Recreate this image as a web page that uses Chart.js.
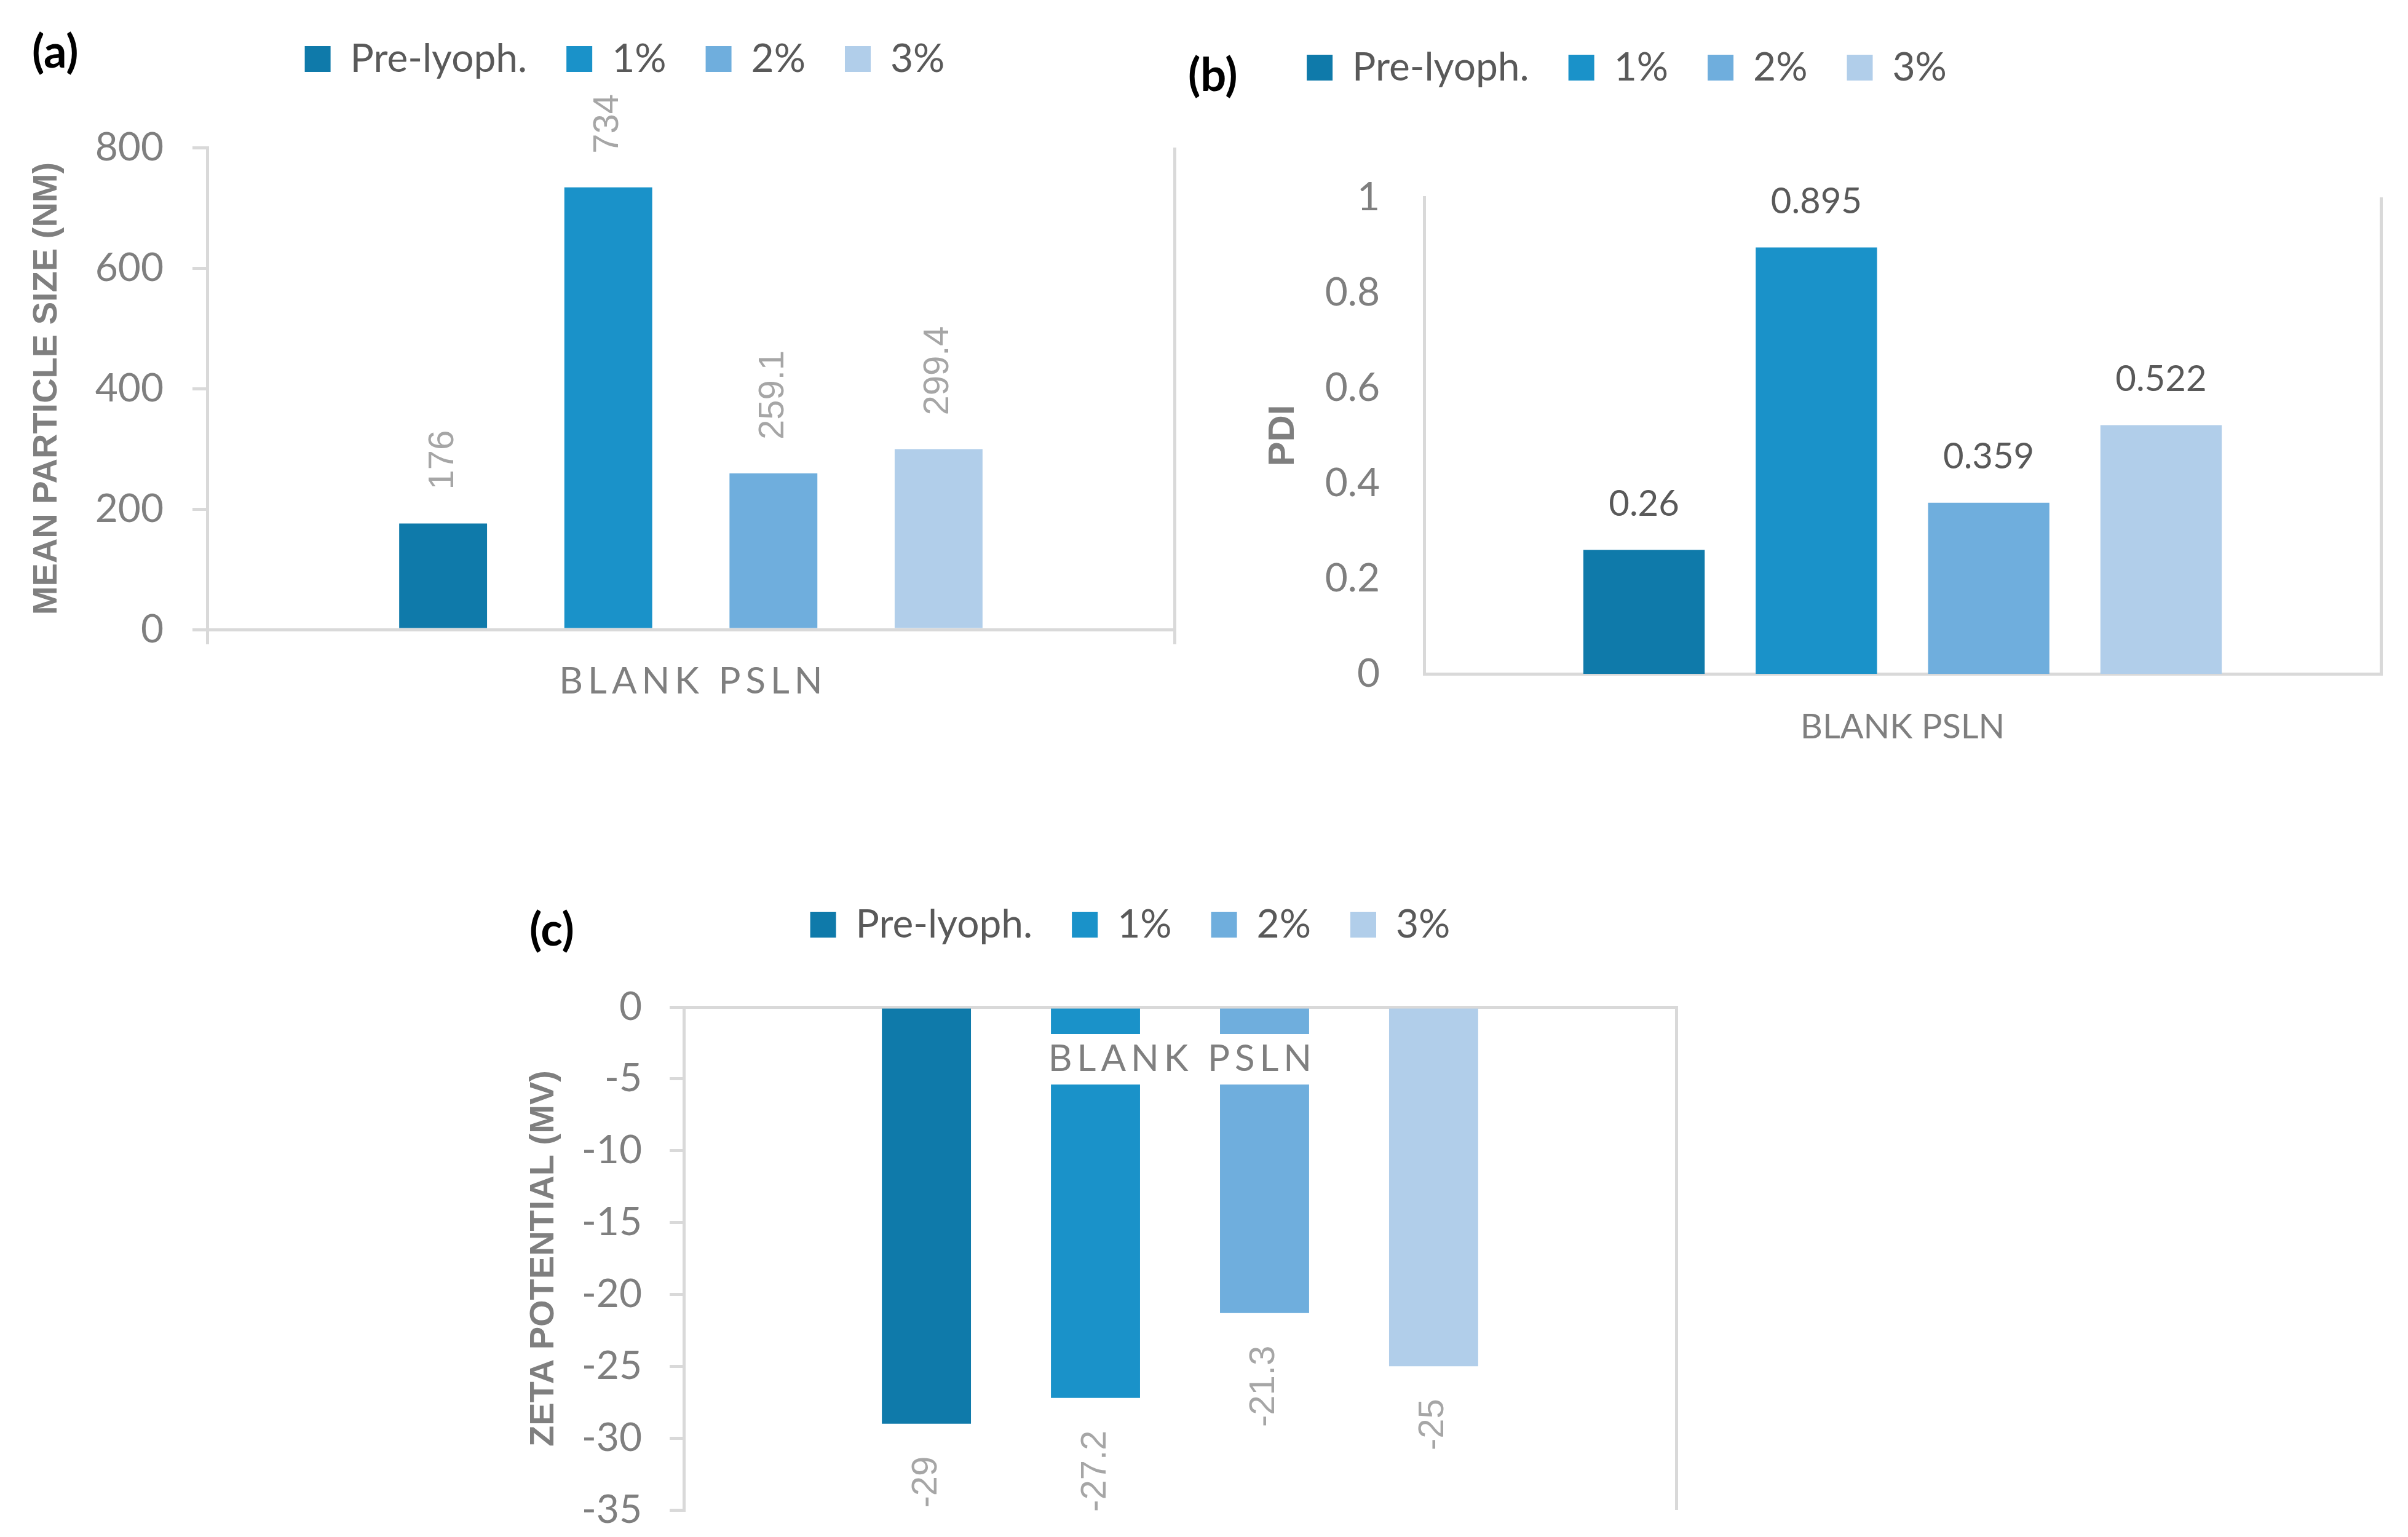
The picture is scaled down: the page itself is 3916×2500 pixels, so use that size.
<!DOCTYPE html>
<html>
  <head>
    <title>Blank PSLN - particle size, PDI and zeta potential</title>
    <style>
      body {
        margin: 0;
        background: #ffffff;
      }

      .page {
        position: relative;
        width: 3916px;
        height: 2500px;
        overflow: hidden;
        background: #ffffff;
      }

      .panel {
        position: absolute;
      }

      .tag {
        position: absolute;
        font-family: Lato, sans-serif;
        font-weight: bold;
        font-size: 74px;
        line-height: 74px;
        color: #000000;
      }
    </style>
  </head>
  <body>
    <div class="page">
      <div class="tag" style="left: 52px; top: 45px;">(a)</div>
      <div class="tag" style="left: 1932px; top: 83px;">(b)</div>
      <div class="tag" style="left: 861px; top: 1473px;">(c)</div>

      <div class="panel" style="left: 40px; top: -20px; width: 1952px; height: 1220px;">
        <canvas id="sizeChart"></canvas>
      </div>
      <div class="panel" style="left: 1375px; top: 0px; width: 2541px; height: 1260px;">
        <canvas id="pdiChart"></canvas>
      </div>
      <div class="panel" style="left: 840px; top: 1380px; width: 1996px; height: 1120px;">
        <canvas id="zetaChart"></canvas>
      </div>
    </div>

    <script src="https://cdn.jsdelivr.net/npm/chart.js"></script>
    <script>
      // data
      const categories = ['BLANK PSLN'];
      const seriesNames = ['Pre-lyoph.', '1%', '2%', '3%'];
      const particleSize = [176, 734, 259.1, 299.4];
      const pdiValues = [0.26, 0.895, 0.359, 0.522];
      const zetaPotential = [-29, -27.2, -21.3, -25];

      // axis ranges: min, max, step
      const sizeRange = [0, 800, 200];
      const pdiRange = [0, 1, 0.2];
      const zetaRange = [-35, 0, 5];

      const seriesColors = ['#0F7AAA', '#1A92C9', '#6FAEDD', '#B1CEEA'];
      const AXIS_LINE = '#D9D9D9';
      const TICK_TEXT = '#7F7F7F';

      function buildDatasets(values, catPct, barPct) {
        return seriesNames.map((name, i) => ({
          label: name,
          data: [values[i]],
          yAxisID: 'y',
          backgroundColor: seriesColors[i],
          borderWidth: 0,
          categoryPercentage: catPct,
          barPercentage: barPct
        }));
      }

      // plain number text for ticks (1 instead of 1.0)
      const plainTick = (value) => String(Math.round(value * 100) / 100);

      const legendOptions = {
        position: 'top',
        align: 'center',
        labels: {
          boxWidth: 42,
          boxHeight: 42,
          padding: 64,
          color: '#595959',
          font: { family: 'Lato', size: 64 }
        }
      };

      // keep the legend box a fixed height so the plot area lands where it should
      const legendHeight = {
        id: 'legendHeight',
        beforeInit(chart, args, opts) {
          const fit = chart.legend.fit;
          chart.legend.fit = function () {
            fit.call(this);
            this.height = opts.height;
          };
        }
      };

      // value labels at the end of each bar
      const valueLabels = {
        id: 'valueLabels',
        afterDatasetsDraw(chart, args, opts) {
          const ctx = chart.ctx;
          ctx.save();
          ctx.font = opts.font;
          ctx.fillStyle = opts.color;
          ctx.textBaseline = 'middle';
          chart.data.datasets.forEach((dataset, i) => {
            chart.getDatasetMeta(i).data.forEach((bar, j) => {
              const value = dataset.data[j];
              const text = String(value);
              const y = value >= 0 ? bar.y - opts.gap : bar.y + opts.gap;
              if (opts.rotate) {
                ctx.save();
                ctx.translate(bar.x, y);
                ctx.rotate(-Math.PI / 2);
                ctx.textAlign = value >= 0 ? 'left' : 'right';
                ctx.fillText(text, 0, 0);
                ctx.restore();
              } else {
                ctx.textAlign = 'center';
                ctx.fillText(text, bar.x, y);
              }
            });
          });
          ctx.restore();
        }
      };

      // category name, with letter spacing (and a white box in the zeta chart)
      const categoryLabel = {
        id: 'categoryLabel',
        afterDatasetsDraw(chart, args, opts) {
          const { ctx, chartArea } = chart;
          const xScale = chart.scales.x;
          ctx.save();
          ctx.font = opts.font;
          ctx.letterSpacing = opts.spacing + 'px';
          ctx.textAlign = 'center';
          ctx.textBaseline = 'middle';
          chart.data.labels.forEach((label, i) => {
            const x = xScale.getPixelForValue(i) + opts.spacing / 2;
            const y = (opts.fromTop ? chartArea.top : chartArea.bottom) + opts.offset;
            if (opts.background) {
              const w = ctx.measureText(label).width;
              ctx.fillStyle = opts.background;
              ctx.fillRect(x - w / 2 - opts.boxPad, y - opts.boxHeight / 2, w + 2 * opts.boxPad, opts.boxHeight);
            }
            ctx.fillStyle = opts.color;
            ctx.fillText(label, x, y);
          });
          ctx.restore();
        }
      };

      const titleFont = { family: 'Liberation Sans', weight: 'bold', size: 56 };
      const tickFont = { family: 'Lato', size: 64 };

      // (a) mean particle size
      new Chart(document.getElementById('sizeChart'), {
        type: 'bar',
        data: { labels: categories, datasets: buildDatasets(particleSize, 0.683, 0.532) },
        options: {
          responsive: true,
          maintainAspectRatio: false,
          animation: false,
          events: [],
          layout: { padding: { top: 20, left: 0, right: 0, bottom: 0 } },
          scales: {
            x: {
              ticks: { display: false },
              grid: { color: AXIS_LINE, lineWidth: 5, drawTicks: true, tickLength: 24 },
              border: { color: AXIS_LINE, width: 5 },
              afterFit: (scale) => { scale.height = 176; }
            },
            y: {
              min: sizeRange[0],
              max: sizeRange[1],
              ticks: { stepSize: sizeRange[2], color: TICK_TEXT, font: tickFont, padding: 47, callback: plainTick },
              grid: { drawOnChartArea: false, drawTicks: true, tickLength: 24, color: AXIS_LINE, lineWidth: 5 },
              border: { color: AXIS_LINE, width: 5 },
              title: { display: true, text: 'MEAN PARTICLE SIZE (NM)', color: TICK_TEXT, font: titleFont, padding: { top: 3, bottom: 0 } },
              afterFit: (scale) => { scale.width = 297; scale.paddingTop = 0; scale.paddingBottom = 0; }
            },
            yEdge: {
              position: 'right',
              grid: { display: false },
              border: { display: false },
              ticks: { display: false },
              afterFit: (scale) => { scale.width = 82; }
            }
          },
          plugins: {
            legend: legendOptions,
            tooltip: { enabled: false },
            legendHeight: { height: 240 },
            valueLabels: { font: '58px "Liberation Sans"', color: '#A6A6A6', gap: 55, rotate: true },
            categoryLabel: { font: '60px Lato', color: TICK_TEXT, spacing: 8, offset: 85 }
          }
        },
        plugins: [legendHeight, valueLabels, categoryLabel]
      });

      // (b) PDI
      new Chart(document.getElementById('pdiChart'), {
        type: 'bar',
        data: { labels: categories, datasets: buildDatasets(pdiValues, 0.7205, 0.704) },
        options: {
          responsive: true,
          maintainAspectRatio: false,
          animation: false,
          events: [],
          layout: { padding: { top: 14, left: 0, right: 0, bottom: 0 } },
          scales: {
            x: {
              ticks: { display: false },
              grid: { color: AXIS_LINE, lineWidth: 5, drawTicks: false },
              border: { color: AXIS_LINE, width: 5 },
              afterFit: (scale) => { scale.height = 164; }
            },
            y: {
              min: pdiRange[0],
              max: pdiRange[1],
              ticks: { stepSize: pdiRange[2], color: TICK_TEXT, font: tickFont, padding: 72, callback: plainTick },
              grid: { display: false, drawTicks: false },
              border: { color: AXIS_LINE, width: 5 },
              title: { display: true, text: 'PDI', color: TICK_TEXT, font: { family: 'Liberation Sans', weight: 'bold', size: 60 }, padding: { top: 676, bottom: 0 } },
              afterFit: (scale) => { scale.width = 941; scale.paddingTop = 0; scale.paddingBottom = 0; }
            },
            yEdge: {
              position: 'right',
              grid: { display: false },
              border: { display: false },
              ticks: { display: false },
              afterFit: (scale) => { scale.width = 44; }
            }
          },
          plugins: {
            legend: legendOptions,
            tooltip: { enabled: false },
            legendHeight: { height: 307 },
            valueLabels: { font: '58px Lato', color: '#595959', gap: 74, rotate: false },
            categoryLabel: { font: '56px Lato', color: TICK_TEXT, spacing: 0, offset: 87 }
          }
        },
        plugins: [legendHeight, valueLabels, categoryLabel]
      });

      // (c) zeta potential, category axis sits on the zero line at the top
      new Chart(document.getElementById('zetaChart'), {
        type: 'bar',
        data: { labels: categories, datasets: buildDatasets(zetaPotential, 0.6814, 0.527) },
        options: {
          responsive: true,
          maintainAspectRatio: false,
          animation: false,
          events: [],
          layout: { padding: { top: 28, left: 0, right: 0, bottom: 44 } },
          scales: {
            x: {
              position: 'top',
              ticks: { display: false },
              grid: { color: AXIS_LINE, lineWidth: 5, drawTicks: false },
              border: { color: AXIS_LINE, width: 5 },
              afterFit: (scale) => { scale.height = 0; }
            },
            y: {
              min: zetaRange[0],
              max: zetaRange[1],
              ticks: { stepSize: zetaRange[2], color: TICK_TEXT, font: tickFont, padding: 45, callback: plainTick },
              grid: { drawOnChartArea: false, drawTicks: true, tickLength: 23, color: AXIS_LINE, lineWidth: 5 },
              border: { color: AXIS_LINE, width: 5 },
              title: { display: true, text: 'ZETA POTENTIAL (MV)', color: TICK_TEXT, font: titleFont, padding: { top: 11, bottom: 0 } },
              afterFit: (scale) => { scale.width = 272; scale.paddingTop = 0; scale.paddingBottom = 0; }
            },
            yEdge: {
              position: 'right',
              grid: { display: false },
              border: { display: false },
              ticks: { display: false },
              afterFit: (scale) => { scale.width = 110; }
            }
          },
          plugins: {
            legend: legendOptions,
            tooltip: { enabled: false },
            legendHeight: { height: 230 },
            valueLabels: { font: '58px "Liberation Sans"', color: '#A6A6A6', gap: 53, rotate: true },
            categoryLabel: {
              font: '60px Lato', color: TICK_TEXT, spacing: 8, offset: 85, fromTop: true,
              background: '#FFFFFF', boxHeight: 82, boxPad: 8
            }
          }
        },
        plugins: [legendHeight, valueLabels, categoryLabel]
      });
    </script>
  </body>
</html>
